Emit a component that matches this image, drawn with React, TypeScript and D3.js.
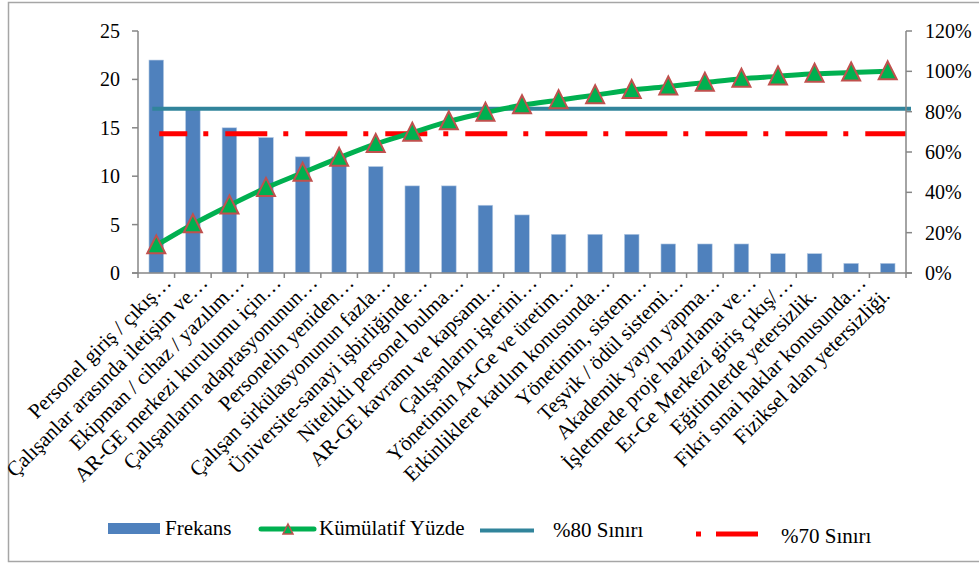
import React from "react";
import * as d3 from "d3";

const categories: string[] = [
  "Personel giriş / çıkış…",
  "Çalışanlar arasında iletişim ve…",
  "Ekipman / cihaz / yazılım…",
  "AR-GE merkezi kurulumu için…",
  "Çalışanların adaptasyonunun…",
  "Personelin yeniden…",
  "Çalışan sirkülasyonunun fazla…",
  "Üniversite-sanayi işbirliğinde…",
  "Nitelikli personel bulma…",
  "AR-GE kavramı ve kapsamı…",
  "Çalışanların işlerini…",
  "Yönetimin Ar-Ge ve üretim…",
  "Etkinliklere katılım konusunda…",
  "Yönetimin, sistem…",
  "Teşvik / ödül sistemi…",
  "Akademik yayın yapma…",
  "İşletmede proje hazırlama ve…",
  "Er-Ge Merkezi giriş çıkış/…",
  "Eğitimlerde yetersizlik.",
  "Fikri sınai haklar konusunda…",
  "Fiziksel alan yetersizliği.",
];

const frequency: number[] = [22, 17, 15, 14, 12, 12, 11, 9, 9, 7, 6, 4, 4, 4, 3, 3, 3, 2, 2, 1, 1];

const cumulative: number[] = [
  0.137, 0.242, 0.335, 0.422, 0.497, 0.571, 0.64, 0.696, 0.752, 0.795, 0.832,
  0.857, 0.882, 0.907, 0.925, 0.944, 0.963, 0.975, 0.988, 0.994, 1.0,
];

const leftTicks: number[] = [0, 5, 10, 15, 20, 25];
const rightTicks: number[] = [0, 0.2, 0.4, 0.6, 0.8, 1.0, 1.2];

const limit80 = 0.815;
const limit70 = 0.69;

const legendLabels: string[] = ["Frekans", "Kümülatif Yüzde", "%80 Sınırı", "%70 Sınırı"];

const FONT = "Liberation Serif, DejaVu Serif, serif";
const AXIS = "#868686";

export default function App() {
  const W = 979;
  const H = 565;
  const left = 138;
  const right = 906;
  const top = 31;
  const bottom = 273;

  const x = d3
    .scaleBand<string>()
    .domain(categories)
    .range([left, right])
    .paddingInner(0.6)
    .paddingOuter(0.3);
  const yL = d3.scaleLinear().domain([0, 25]).range([bottom, top]);
  const yR = d3.scaleLinear().domain([0, 1.2]).range([bottom, top]);
  const step = x.step();
  const cx = (c: string) => (x(c) as number) + x.bandwidth() / 2;

  const line = d3
    .line<number>()
    .x((_, i) => cx(categories[i]))
    .y((d) => yR(d))
    .curve(d3.curveCatmullRom.alpha(0.5));

  const tri = (px: number, py: number, s: number) =>
    `M${px},${py - s - 1}L${px + s},${py + s - 1}L${px - s},${py + s - 1}Z`;

  const boundaries = d3.range(categories.length + 1).map((i) => left + i * step);

  const tealStart = cx(categories[0]) - 4;
  const redStart = cx(categories[0]) + 3;

  return (
    <svg
      width={W}
      height={H}
      style={{ position: "absolute", left: 0, top: 0, background: "#fff" }}
      fontFamily={FONT}
    >
      <rect x={8.5} y={2.5} width={990} height={559} fill="#fff" stroke="#A6A6A6" strokeWidth={1.5} />

      {/* bars */}
      {frequency.map((v, i) => (
        <rect
          key={i}
          x={x(categories[i]) as number}
          y={yL(v)}
          width={x.bandwidth()}
          height={bottom - yL(v)}
          fill="#4F81BD"
          stroke="#B9CDE5"
          strokeWidth={0.6}
        />
      ))}

      {/* threshold lines */}
      <line
        x1={tealStart}
        x2={right + 5}
        y1={yR(limit80)}
        y2={yR(limit80)}
        stroke="#31849B"
        strokeWidth={4}
      />
      <line
        x1={redStart}
        x2={right}
        y1={yR(limit70)}
        y2={yR(limit70)}
        stroke="#FF0000"
        strokeWidth={5}
        strokeDasharray="42 16 5 17"
        strokeDashoffset={14}
      />

      {/* cumulative */}
      <path d={line(cumulative) || ""} fill="none" stroke="#00B050" strokeWidth={5} />
      {cumulative.map((v, i) => (
        <path key={i} d={tri(cx(categories[i]), yR(v), 9)} fill="#00B050" stroke="#C0504D" strokeWidth={2} />
      ))}

      {/* axes */}
      <line x1={left} x2={left} y1={top} y2={bottom} stroke={AXIS} strokeWidth={1.5} />
      <line x1={right} x2={right} y1={top} y2={bottom} stroke={AXIS} strokeWidth={1.5} />
      <line x1={left - 6} x2={right + 6} y1={bottom} y2={bottom} stroke={AXIS} strokeWidth={1.5} />
      {leftTicks.map((t) => (
        <g key={t}>
          <line x1={left - 6} x2={left} y1={yL(t)} y2={yL(t)} stroke={AXIS} strokeWidth={1.5} />
          <text x={left - 18} y={yL(t)} dy="0.35em" textAnchor="end" fontSize={20}>
            {t}
          </text>
        </g>
      ))}
      {rightTicks.map((t) => (
        <g key={t}>
          <line x1={right} x2={right + 6} y1={yR(t)} y2={yR(t)} stroke={AXIS} strokeWidth={1.5} />
          <text x={right + 19} y={yR(t)} dy="0.35em" textAnchor="start" fontSize={20}>
            {d3.format(".0%")(t)}
          </text>
        </g>
      ))}
      {boundaries.map((b, i) => (
        <line key={i} x1={b} x2={b} y1={bottom} y2={bottom + 5} stroke={AXIS} strokeWidth={1.5} />
      ))}

      {/* category labels */}
      {categories.map((c, i) => {
        const ax = cx(c) + 16;
        const ay = bottom + 11;
        const shift = c.endsWith("…") ? 0 : -18;
        return (
          <text
            key={i}
            transform={`translate(${ax},${ay}) rotate(-45)`}
            x={shift}
            textAnchor="end"
            fontSize={21}
          >
            {c}
          </text>
        );
      })}

      {/* legend */}
      <rect x={108} y={523} width={52} height={11} fill="#4F81BD" />
      <text x={165} y={535} fontSize={21}>
        {legendLabels[0]}
      </text>
      <line x1={261} x2={314} y1={529} y2={529} stroke="#00B050" strokeWidth={5} strokeLinecap="round" />
      <path d={tri(288, 530, 5)} fill="#00B050" stroke="#C0504D" strokeWidth={1.5} />
      <text x={319} y={535} fontSize={21}>
        {legendLabels[1]}
      </text>
      <line x1={480} x2={534} y1={530.5} y2={530.5} stroke="#31849B" strokeWidth={4} />
      <text x={553} y={537} fontSize={21}>
        {legendLabels[2]}
      </text>
      <line x1={696} x2={758} y1={534} y2={534} stroke="#FF0000" strokeWidth={5} strokeDasharray="5 15 42 10" />
      <text x={781} y={543} fontSize={21}>
        {legendLabels[3]}
      </text>
    </svg>
  );
}
